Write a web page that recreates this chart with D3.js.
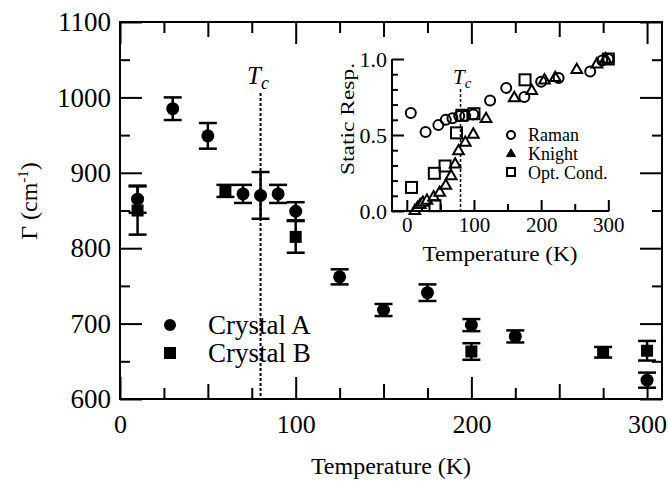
<!DOCTYPE html>
<html>
<head>
<meta charset="utf-8">
<script src="https://cdn.jsdelivr.net/npm/d3@7"></script>
<style>
  body { margin: 0; background: #fff; }
  svg { display: block; }
  svg text { font-family: "Liberation Serif", "DejaVu Serif", serif !important; fill: #000; }
</style>
</head>
<body>
<div id="chart"></div>
<script>
// ---- data ----
// main plot: temperature (K), linewidth Gamma (cm-1), error
var crystalA_T = [10, 30, 50, 70, 80, 90, 100, 125, 150, 175, 200, 225, 300];
var crystalA_G = [865, 985, 949, 872, 870, 872, 849, 762, 718, 741, 698, 683, 625];
var crystalA_E = [18, 15, 17, 12, 31, 12, 12, 10, 8, 11, 8, 8, 10];

var crystalB_T = [10, 60, 100, 200, 275, 300];
var crystalB_G = [850, 876, 815, 663, 662, 664];
var crystalB_E = [32, 8, 21, 11, 7, 13];

var mainXMajor = [0, 100, 200, 300];
var mainXMid = [50, 150, 250];
var mainXMinor = [25, 75, 125, 175, 225, 275];
var mainYMajor = [600, 700, 800, 900, 1000, 1100];
var mainYMinor = [650, 750, 850, 950, 1050];

var Tc = 80;

// inset: static response
var ramanT = [6, 28, 47, 58, 68, 78, 87, 99, 124, 148, 175, 200, 226, 273, 291, 300];
var ramanV = [0.645, 0.52, 0.565, 0.60, 0.61, 0.625, 0.625, 0.635, 0.727, 0.81, 0.75, 0.85, 0.875, 0.917, 0.99, 1.0];

var knightT = [12, 16, 20, 24, 30, 40, 49, 58, 66, 72, 77, 87, 99, 118, 160, 186, 205, 221, 253, 283, 296];
var knightV = [0.0, 0.02, 0.04, 0.055, 0.068, 0.09, 0.12, 0.166, 0.23, 0.307, 0.394, 0.449, 0.503, 0.606, 0.743, 0.79, 0.86, 0.875, 0.928, 0.965, 0.998];

var optT = [7, 41, 42, 57, 74, 82, 100, 176, 300];
var optV = [0.155, 0.248, 0.035, 0.296, 0.514, 0.63, 0.64, 0.863, 1.0];

var insetXMajor = [0, 100, 200, 300];
var insetXMinor = [50, 150, 250];
var insetYMajor = [0, 0.5, 1.0];
var insetYMinor = [0.1, 0.2, 0.3, 0.4, 0.6, 0.7, 0.8, 0.9];

// ---- svg ----
var svgWidth = 668;
var svgHeight = 482;

var svg = d3.select("#chart")
    .append("svg")
    .attr("width", svgWidth)
    .attr("height", svgHeight);

// main scales
var x = d3.scaleLinear().domain([0, 308.5]).range([120, 662]);
var y = d3.scaleLinear().domain([600, 1100]).range([399, 22]);

// helper: draw a set of tick marks (no labels)
function ticks(axisFn, scale, values, size, transform) {
    var g = svg.append("g")
        .attr("transform", transform)
        .call(axisFn(scale).tickValues(values).tickSize(size).tickFormat(""));
    g.select(".domain").remove();
    g.selectAll("line").attr("stroke", "#000").attr("stroke-width", 2);
    return g;
}

// main frame ticks, all pointing inward
ticks(d3.axisBottom, x, mainXMajor, -22, "translate(0,399)");
ticks(d3.axisBottom, x, mainXMid, -15, "translate(0,399)");
ticks(d3.axisBottom, x, mainXMinor, -11, "translate(0,399)");
ticks(d3.axisTop, x, mainXMajor, -22, "translate(0,22)");
ticks(d3.axisTop, x, mainXMid, -15, "translate(0,22)");
ticks(d3.axisTop, x, mainXMinor, -11, "translate(0,22)");
ticks(d3.axisLeft, y, mainYMajor, -22, "translate(120,0)");
ticks(d3.axisLeft, y, mainYMinor, -10, "translate(120,0)");
ticks(d3.axisRight, y, mainYMajor, -22, "translate(662,0)");
ticks(d3.axisRight, y, mainYMinor, -10, "translate(662,0)");

// tick labels
var xLabels = svg.append("g")
    .attr("transform", "translate(0,399)")
    .call(d3.axisBottom(x).tickValues(mainXMajor).tickSize(0).tickPadding(16).tickFormat(d3.format("d")));
xLabels.select(".domain").remove();
xLabels.selectAll("text").style("font-size", "26px");

var yLabels = svg.append("g")
    .attr("transform", "translate(120,0)")
    .call(d3.axisLeft(y).tickValues(mainYMajor).tickSize(0).tickPadding(9).tickFormat(d3.format("d")));
yLabels.select(".domain").remove();
yLabels.selectAll("text").style("font-size", "27px");

// frame
svg.append("rect")
    .attr("x", 120).attr("y", 22)
    .attr("width", 542).attr("height", 377)
    .attr("fill", "none").attr("stroke", "#000").attr("stroke-width", 2);

// axis titles
svg.append("text")
    .attr("x", 391).attr("y", 474)
    .attr("text-anchor", "middle")
    .style("font-size", "24px")
    .text("Temperature (K)");

var yTitle = svg.append("text")
    .attr("transform", "translate(37,201) rotate(-90)")
    .attr("text-anchor", "middle")
    .style("font-size", "24px");
yTitle.append("tspan").text("\u0393 (cm");
yTitle.append("tspan").style("font-size", "15px").attr("dy", -9).text("-1");
yTitle.append("tspan").attr("dy", 9).text(")");

// Tc line and label
svg.append("line")
    .attr("x1", x(Tc)).attr("x2", x(Tc))
    .attr("y1", 93).attr("y2", 399)
    .attr("stroke", "#000").attr("stroke-width", 2)
    .attr("stroke-dasharray", "3,2");

var tcLabel = svg.append("text")
    .attr("x", 247).attr("y", 84)
    .style("font-size", "25px").style("font-style", "italic");
tcLabel.append("tspan").text("T");
tcLabel.append("tspan").style("font-size", "18px").attr("dy", 5).text("c");

// error bars + markers
function errorBars(Ts, Gs, Es) {
    var g = svg.append("g");
    Ts.forEach(function(t, i) {
        var cx = x(t);
        var top = y(Gs[i] + Es[i]);
        var bot = y(Gs[i] - Es[i]);
        g.append("line").attr("x1", cx).attr("x2", cx).attr("y1", top).attr("y2", bot)
            .attr("stroke", "#000").attr("stroke-width", 2.5);
        g.append("line").attr("x1", cx - 9).attr("x2", cx + 9).attr("y1", top).attr("y2", top)
            .attr("stroke", "#000").attr("stroke-width", 2.5);
        g.append("line").attr("x1", cx - 9).attr("x2", cx + 9).attr("y1", bot).attr("y2", bot)
            .attr("stroke", "#000").attr("stroke-width", 2.5);
    });
}
errorBars(crystalA_T, crystalA_G, crystalA_E);
errorBars(crystalB_T, crystalB_G, crystalB_E);

svg.append("g").selectAll("circle")
    .data(crystalA_T)
    .enter()
    .append("circle")
    .attr("cx", d => x(d))
    .attr("cy", (d, i) => y(crystalA_G[i]))
    .attr("r", 6.5)
    .attr("fill", "#000");

svg.append("g").selectAll("rect")
    .data(crystalB_T)
    .enter()
    .append("rect")
    .attr("x", d => x(d) - 6)
    .attr("y", (d, i) => y(crystalB_G[i]) - 6)
    .attr("width", 12).attr("height", 12)
    .attr("fill", "#000");

// legend
svg.append("circle").attr("cx", 170).attr("cy", 325).attr("r", 6).attr("fill", "#000");
svg.append("rect").attr("x", 164).attr("y", 347).attr("width", 12).attr("height", 12).attr("fill", "#000");
svg.append("text").attr("x", 208).attr("y", 334).style("font-size", "27px").text("Crystal A");
svg.append("text").attr("x", 208).attr("y", 362).style("font-size", "27px").text("Crystal B");

// ---- inset ----
var ix = d3.scaleLinear().domain([-22, 301]).range([392, 609]);
var iy = d3.scaleLinear().domain([0, 1.0]).range([211, 59]);

insetTick(d3.axisBottom, ix, insetXMajor, -11, "translate(0,211)");
insetTick(d3.axisBottom, ix, insetXMinor, -7, "translate(0,211)");
insetTick(d3.axisLeft, iy, insetYMajor, -12, "translate(392,0)");
insetTick(d3.axisLeft, iy, insetYMinor, -6, "translate(392,0)");

function insetTick(axisFn, scale, values, size, transform) {
    var g = svg.append("g")
        .attr("transform", transform)
        .call(axisFn(scale).tickValues(values).tickSize(size).tickFormat(""));
    g.select(".domain").remove();
    g.selectAll("line").attr("stroke", "#000").attr("stroke-width", 2);
}

// L-shaped axis lines
svg.append("path")
    .attr("d", "M392,59 L392,211 L609,211")
    .attr("fill", "none").attr("stroke", "#000").attr("stroke-width", 2);

var ixLabels = svg.append("g")
    .attr("transform", "translate(0,211)")
    .call(d3.axisBottom(ix).tickValues(insetXMajor).tickSize(0).tickPadding(6));
ixLabels.select(".domain").remove();
ixLabels.selectAll("text").style("font-size", "21px");

var iyLabels = svg.append("g")
    .attr("transform", "translate(392,0)")
    .call(d3.axisLeft(iy).tickValues(insetYMajor).tickSize(0).tickPadding(5).tickFormat(d3.format(".1f")));
iyLabels.select(".domain").remove();
iyLabels.selectAll("text").style("font-size", "22px");

svg.append("text")
    .attr("x", 500).attr("y", 261)
    .attr("text-anchor", "middle")
    .style("font-size", "22px")
    .attr("textLength", 155)
    .attr("lengthAdjust", "spacingAndGlyphs")
    .text("Temperature (K)");

svg.append("text")
    .attr("transform", "translate(354,119) rotate(-90)")
    .attr("text-anchor", "middle")
    .style("font-size", "19px")
    .attr("textLength", 112)
    .attr("lengthAdjust", "spacingAndGlyphs")
    .text("Static Resp.");

// inset Tc
svg.append("line")
    .attr("x1", ix(Tc)).attr("x2", ix(Tc))
    .attr("y1", 89).attr("y2", 211)
    .attr("stroke", "#000").attr("stroke-width", 1.5)
    .attr("stroke-dasharray", "3,2");

var itc = svg.append("text")
    .attr("x", 453).attr("y", 84)
    .style("font-size", "21px").style("font-style", "italic");
itc.append("tspan").text("T");
itc.append("tspan").style("font-size", "15px").attr("dy", 4).text("c");

// inset markers
var triangle = d3.symbol().type(d3.symbolTriangle).size(50);

svg.append("g").selectAll("path")
    .data(knightT)
    .enter()
    .append("path")
    .attr("d", triangle)
    .attr("transform", (d, i) => `translate(${ix(d)},${iy(knightV[i])})`)
    .attr("fill", "#fff").attr("stroke", "#000").attr("stroke-width", 2);

svg.append("g").selectAll("rect")
    .data(optT)
    .enter()
    .append("rect")
    .attr("x", d => ix(d) - 5.5)
    .attr("y", (d, i) => iy(optV[i]) - 5.5)
    .attr("width", 11).attr("height", 11)
    .attr("fill", "none").attr("stroke", "#000").attr("stroke-width", 2);

svg.append("g").selectAll("circle")
    .data(ramanT)
    .enter()
    .append("circle")
    .attr("cx", d => ix(d))
    .attr("cy", (d, i) => iy(ramanV[i]))
    .attr("r", 5)
    .attr("fill", "none").attr("stroke", "#000").attr("stroke-width", 2);

// inset legend
svg.append("circle").attr("cx", 511).attr("cy", 135).attr("r", 4)
    .attr("fill", "none").attr("stroke", "#000").attr("stroke-width", 2);
svg.append("path").attr("d", triangle.size(35))
    .attr("transform", "translate(511,154)")
    .attr("fill", "#000").attr("stroke", "#000").attr("stroke-width", 1);
svg.append("rect").attr("x", 507).attr("y", 168).attr("width", 8).attr("height", 8)
    .attr("fill", "none").attr("stroke", "#000").attr("stroke-width", 2);

svg.append("text").attr("x", 528).attr("y", 141).style("font-size", "18px").text("Raman");
svg.append("text").attr("x", 528).attr("y", 160).style("font-size", "18px").text("Knight");
svg.append("text").attr("x", 528).attr("y", 179).style("font-size", "18px").text("Opt. Cond.");
</script>
</body>
</html>
